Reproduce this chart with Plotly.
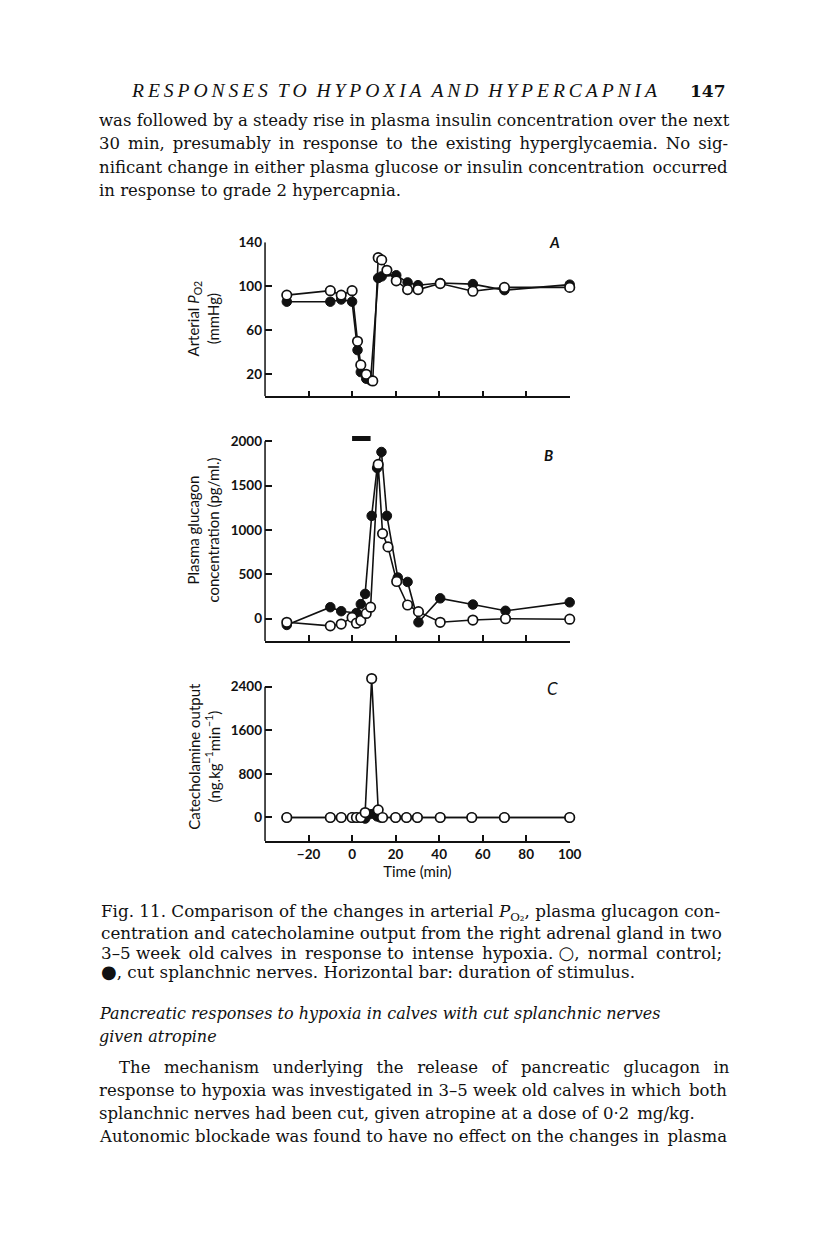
import plotly.graph_objects as go

# --- data ---------------------------------------------------------------
# panel A: arterial PO2 (mmHg)
po2_t_cut = [-30, -10, -5, 0, 2.5, 4, 6.5, 8.5, 12, 13.6, 20.3, 25.5, 30.3, 40.5, 55.5, 70, 100]
po2_cut = [86, 86, 88, 86, 42, 22, 16, 14.5, 107.5, 109, 110, 103.5, 101, 103, 102, 96.5, 101.5]
po2_t_ctl = [-30, -10, -5, 0, 2.5, 4, 6.5, 9.5, 12, 13.6, 16, 20.3, 25.5, 30.3, 40.5, 55.5, 70, 100]
po2_ctl = [92, 96, 92, 96, 50, 28.5, 20, 14, 126, 124, 114.5, 105, 97, 97, 102.5, 95.5, 99, 99]

# panel B: plasma glucagon (pg/ml)
glu_t_cut = [-30, -10, -5, 2, 4, 6, 9, 11.5, 13.5, 16, 21, 25.5, 30.5, 40.5, 55.5, 70.5, 100]
glu_cut = [-70, 130, 85, 65, 165, 280, 1160, 1700, 1880, 1160, 465, 415, -40, 230, 160, 90, 185]
glu_t_ctl = [-30, -10, -5, 0, 2, 4, 6.5, 8.5, 12, 14, 16.5, 20.5, 25.5, 30.5, 40.5, 55.5, 70.5, 100]
glu_ctl = [-40, -80, -60, 15, -50, -20, 60, 130, 1740, 960, 810, 420, 155, 80, -40, -15, 0, -5]

# panel C: catecholamine output (ng/kg/min)
cat_t_cut = [-30, -10, -5, 0, 2, 4, 6, 8, 10, 11.5, 13, 20, 25, 30, 40.5, 55, 70, 100]
cat_cut = [0, 0, 0, 0, 0, 0, -20, 60, 70, 20, 0, 0, 0, 0, 0, 0, 0, 0]
cat_t_ctl = [-30, -10, -5, 0, 2, 4, 6, 9, 12, 14, 20, 25, 30, 40.5, 55, 70, 100]
cat_ctl = [0, 0, 0, 0, 0, 0, 90, 2550, 140, 0, 0, 0, 0, 0, 0, 0, 0]

# stimulus duration bar
stim_t = [0, 8.5]
stim_y = [2032, 2032]

x_ticks = [-20, 0, 20, 40, 60, 80, 100]
po2_ticks = [20, 60, 100, 140]
glu_ticks = [0, 500, 1000, 1500, 2000]
cat_ticks = [0, 800, 1600, 2400]

# the html body adds an 8 px margin, so the figure is drawn 8 px smaller
PAGE_W, PAGE_H, OFF = 816, 1238, 8
W, H = PAGE_W - OFF, PAGE_H - OFF
INK = "#111111"
SANS = "Lato"
SERIF = "DejaVu Serif"


def px(x):
    # small stretch about the left text margin, measured against the page
    x = x + 8 * (x - 98) / 462
    return (x - OFF) / W


def py(y):
    y = y - 7 * (1100 - y) / 1010
    return 1 - (y - OFF) / H


fig = go.Figure()

panels = [
    ("x", "y", po2_t_cut, po2_cut, po2_t_ctl, po2_ctl),
    ("x2", "y2", glu_t_cut, glu_cut, glu_t_ctl, glu_ctl),
    ("x3", "y3", cat_t_cut, cat_cut, cat_t_ctl, cat_ctl),
]
for xa, ya, tc, vc, to, vo in panels:
    fig.add_trace(go.Scatter(
        x=tc, y=vc, xaxis=xa, yaxis=ya, mode="lines+markers", cliponaxis=False,
        line=dict(color=INK, width=1.6),
        marker=dict(symbol="circle", size=9.5, color=INK, line=dict(color=INK, width=1)),
        showlegend=False))
    fig.add_trace(go.Scatter(
        x=to, y=vo, xaxis=xa, yaxis=ya, mode="lines+markers", cliponaxis=False,
        line=dict(color=INK, width=1.6),
        marker=dict(symbol="circle", size=9.5, color="white", line=dict(color=INK, width=1.7)),
        showlegend=False))

fig.add_trace(go.Scatter(
    x=stim_t, y=stim_y, xaxis="x2", yaxis="y2", mode="lines",
    line=dict(color=INK, width=5), showlegend=False))

x_dom = [px(266), px(570)]
tickfont = dict(family=SANS, size=13.5, color=INK, weight="bold")
common_x = dict(range=[-40, 100], domain=x_dom, showline=True, linecolor=INK, linewidth=1.5,
                ticks="inside", ticklen=6, tickwidth=1.5, tickcolor=INK, tickvals=x_ticks,
                showgrid=False, zeroline=False, tickfont=tickfont)
common_y = dict(showline=False, ticks="inside", ticklen=7, tickwidth=1.5, tickcolor=INK,
                showgrid=False, zeroline=False, tickfont=tickfont, ticklabelstandoff=2)

fig.update_layout(
    width=W, height=H, margin=dict(l=0, r=0, t=0, b=0),
    paper_bgcolor="white", plot_bgcolor="white", showlegend=False,
    xaxis=dict(common_x, anchor="y", showticklabels=False),
    xaxis2=dict(common_x, anchor="y2", showticklabels=False),
    xaxis3=dict(common_x, anchor="y3", showticklabels=True,
                title=dict(text="Time (min)", font=dict(family=SANS, size=15, color=INK), standoff=6)),
    yaxis=dict(common_y, anchor="x", range=[0, 140], domain=[py(395.7), py(241.7)], tickvals=po2_ticks),
    yaxis2=dict(common_y, anchor="x2", range=[-250, 2070], domain=[py(640.2), py(434.5)], tickvals=glu_ticks),
    yaxis3=dict(common_y, anchor="x3", range=[-430, 2620], domain=[py(840.1), py(674)], tickvals=cat_ticks),
)

# left axis lines, stopping at the top tick
for ya, lo, hi in [("y", 0, 140), ("y2", -250, 2000), ("y3", -430, 2400)]:
    xr = "x domain" if ya == "y" else "x%s domain" % ya[1:]
    fig.add_shape(type="line", xref=xr, yref=ya, x0=0, x1=0, y0=lo, y1=hi,
                  line=dict(color=INK, width=1.5))

ann = []


def text(s, x, y, size=16.5, family=SERIF, xanchor="left", **kw):
    ann.append(dict(text=s, x=px(x), y=py(y), xref="paper", yref="paper", showarrow=False,
                    xanchor=xanchor, yanchor="middle",
                    font=dict(family=family, size=size, color=INK), **kw))


def justify(s, extra, size):
    # widen word gaps with six-per-em spaces to mimic the justified setting
    words = s.split(" ")
    gaps = len(words) - 1
    m = int(round(extra / (size / 6.0)))
    out = words[0]
    for i, w in enumerate(words[1:]):
        k = (m * (i + 1)) // gaps - (m * i) // gaps
        out += " " + "\u2006" * k + w
    return out


# axis titles and panel letters
text("Arterial <i>P</i><sub>O2</sub><br>(mmHg)", 204, 318, size=15, family=SANS,
     xanchor="center", textangle=-90)
text("Plasma glucagon<br>concentration (pg/ml.)", 204, 529, size=15, family=SANS,
     xanchor="center", textangle=-90)
text("Catecholamine output<br>(ng.kg<sup>\u22121</sup>min<sup>\u22121</sup>)", 205, 755, size=15,
     family=SANS, xanchor="center", textangle=-90)
text("<b><i>A</i></b>", 555, 241, size=15, family=SANS, xanchor="center")
text("<b><i>B</i></b>", 549, 454, size=15, family=SANS, xanchor="center")
text("<i>C</i>", 553, 688, size=17, family=SANS, xanchor="center")

# page text
header = "\u2002".join("\u2009".join(w) for w in "RESPONSES TO HYPOXIA AND HYPERCAPNIA".split())
text("<i>" + header + "</i>", 130, 90, size=19.6, family="Liberation Serif")
text("<b>147</b>", 688, 90, size=17)

body_top = [
    ("was followed by a steady rise in plasma insulin concentration over the next", 0),
    ("30 min, presumably in response to the existing hyperglycaemia. No sig-", 27),
    ("nificant change in either plasma glucose or insulin concentration occurred", 3),
    ("in response to grade 2 hypercapnia.", 0),
]
for i, (s, ex) in enumerate(body_top):
    text(justify(s, ex, 16.5), 98, 120 + 23.3 * i)

big = '<span style="font-size:18px">%s</span>'
caption = [
    ("Fig. 11. Comparison of the changes in arterial <i>P</i><sub>O\u2082</sub>, plasma glucagon con-", 0),
    ("centration and catecholamine output from the right adrenal gland in two", 0),
    ("3\u20135 week old calves in response to intense hypoxia. " + big % "\u25cb" + ", normal control;", 19),
    (big % "\u25cf" + ", cut splanchnic nerves. Horizontal bar: duration of stimulus.", 0),
]
for i, (s, ex) in enumerate(caption):
    if ex:
        s = s.replace(big % "\u25cb", "\u25cb")
        s = justify(s, ex, 16.75).replace("\u25cb", big % "\u25cb")
    text(s, 100, 912 + 19.7 * i, size=16.75)

heading = [
    "Pancreatic responses to hypoxia in calves with cut splanchnic nerves",
    "given atropine",
]
for i, s in enumerate(heading):
    text("<i>" + s + "</i>", 98, 1013 + 23 * i, size=16)

body_bottom = [
    (118, "The mechanism underlying the release of pancreatic glucagon in", 65),
    (98, "response to hypoxia was investigated in 3\u20135 week old calves in which both", 3),
    (98, "splanchnic nerves had been cut, given atropine at a dose of 0\u00b72 mg/kg.", 4),
    (98, "Autonomic blockade was found to have no effect on the changes in plasma", 3),
]
for i, (x0, s, ex) in enumerate(body_bottom):
    text(justify(s, ex, 16.5), x0, 1067 + 23 * i)

fig.update_layout(annotations=ann)

fig.write_html("out.html")
